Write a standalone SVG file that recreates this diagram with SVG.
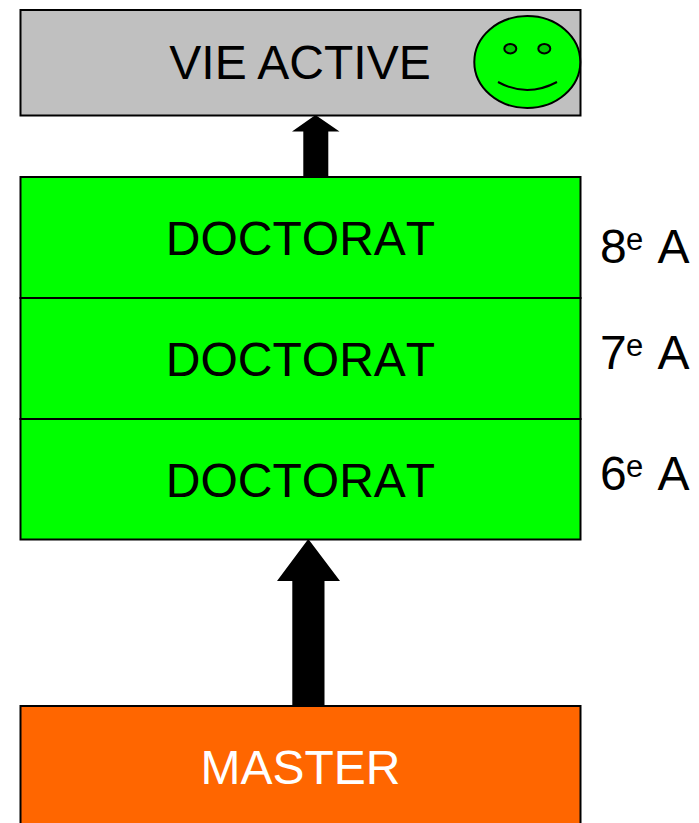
<svg xmlns="http://www.w3.org/2000/svg" width="699" height="823" viewBox="0 0 699 823">
<style>
text{font-family:"Liberation Sans",Arial,sans-serif;font-size:48px;fill:#000;font-kerning:none}
.c{text-anchor:middle}
.box{stroke:#000;stroke-width:2}
.sup{font-size:31px}
.arrow{fill:#000}
.face{stroke:#000;stroke-width:2}
</style>
<rect width="699" height="823" fill="#fff"/>
<g id="connectors">
<path class="arrow" d="M315.500 115L339.500 131.500H328.300V177H303.300V131.500H292Z"/>
<path class="arrow" d="M308.300 539L340 581H324.500V706H292.300V581H277Z"/>
</g>
<g id="vie-active">
<rect class="box" x="20.500" y="10" width="560" height="105.500" fill="#c0c0c0"/>
<text class="c" x="300" y="79" style="font-kerning:normal">VIE ACTIVE</text>
<ellipse class="face" cx="527.300" cy="62" rx="53" ry="46" fill="#00ff00"/>
<ellipse class="face" cx="510.300" cy="48.700" rx="6" ry="4.700" fill="#00cc00"/>
<ellipse class="face" cx="544.300" cy="48.700" rx="6" ry="4.700" fill="#00cc00"/>
<path d="M498 82Q527 98 557 82" fill="none" stroke="#000" stroke-width="2"/>
</g>
<g id="doctorat-8">
<rect class="box" x="20.500" y="177" width="560" height="121" fill="#00ff00"/>
<text class="c" x="300.500" y="254.500">DOCTORAT</text>
</g>
<g id="doctorat-7">
<rect class="box" x="20.500" y="298" width="560" height="121" fill="#00ff00"/>
<text class="c" x="300.500" y="375.500">DOCTORAT</text>
</g>
<g id="doctorat-6">
<rect class="box" x="20.500" y="419" width="560" height="120.500" fill="#00ff00"/>
<text class="c" x="300.500" y="496.500">DOCTORAT</text>
</g>
<g id="master">
<rect class="box" x="20.500" y="706" width="560" height="120" fill="#ff6600"/>
<text class="c" x="300.500" y="783.500" style="fill:#fff">MASTER</text>
</g>
<g id="year-8"><text x="600" y="263">8</text><text class="sup" x="626" y="249.500">e</text><text x="657.500" y="263">A</text></g>
<g id="year-7"><text x="600" y="369">7</text><text class="sup" x="626" y="355.500">e</text><text x="657.500" y="369">A</text></g>
<g id="year-6"><text x="600" y="490">6</text><text class="sup" x="626" y="476.500">e</text><text x="657.500" y="490">A</text></g>
</svg>
